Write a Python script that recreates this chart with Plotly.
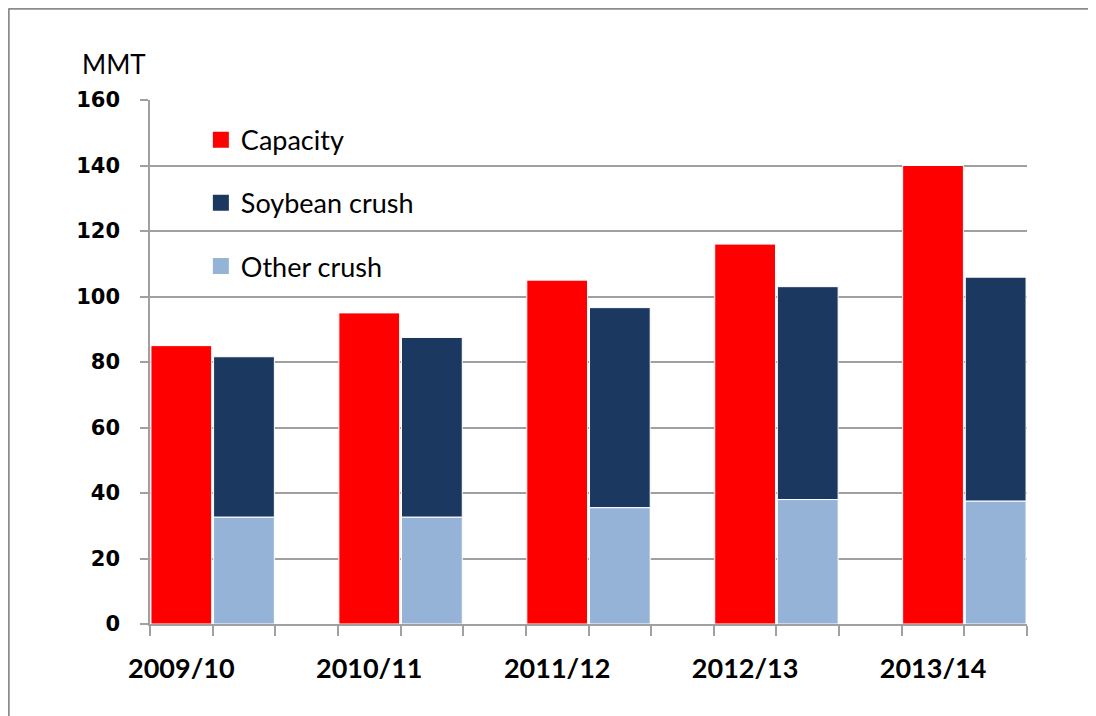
import plotly.graph_objects as go

years = ["2009/10", "2010/11", "2011/12", "2012/13", "2013/14"]
capacity = [85, 95, 105, 116, 140]
soybean_crush = [49.0, 54.9, 61.1, 65.0, 68.4]
other_crush = [32.6, 32.6, 35.5, 38.0, 37.5]

series_names = ["Capacity", "Soybean crush", "Other crush"]
RED = "#FF0000"
NAVY = "#1B3860"
LIGHT = "#95B3D7"
colors = [RED, NAVY, LIGHT]
FONT = "Lato"

# each year occupies 3 category slots: capacity, crush, blank
cap_x = [3 * i + 0.5 for i in range(len(years))]
crush_x = [3 * i + 1.5 for i in range(len(years))]

fig = go.Figure()
fig.add_trace(go.Bar(x=cap_x, y=capacity, name=series_names[0], width=0.97,
                     marker=dict(color=RED, line=dict(color="white", width=1)), showlegend=False))
fig.add_trace(go.Bar(x=crush_x, y=soybean_crush, base=other_crush, name=series_names[1], width=0.97,
                     marker=dict(color=NAVY, line=dict(color="white", width=1)), showlegend=False))
fig.add_trace(go.Bar(x=crush_x, y=other_crush, name=series_names[2], width=0.97,
                     marker=dict(color=LIGHT, line=dict(color="white", width=1)), showlegend=False))

# legend entries with larger square swatches
for i, (nm, col) in enumerate(zip(series_names, colors)):
    fig.add_trace(go.Scatter(x=[None], y=[None], mode="markers", name=nm,
                             marker=dict(symbol="square", size=16, color=col),
                             legendgroup=str(i), showlegend=True))

W, H = 1088, 708
L, R, T, B = 142, 69, 92, 92
pw, ph = W - L - R, H - T - B

fig.update_layout(
    width=W, height=H,
    margin=dict(l=L, r=R, t=T, b=B),
    paper_bgcolor="white", plot_bgcolor="white",
    barmode="overlay",
    font=dict(family=FONT, color="black"),
    showlegend=True,
    legend=dict(x=0.058, y=0.970, xanchor="left", yanchor="top",
                font=dict(size=27, family=FONT), tracegroupgap=25,
                bgcolor="rgba(0,0,0,0)", traceorder="grouped", itemsizing="trace"),
    xaxis=dict(range=[0, 14], tickvals=cap_x, ticktext=years, ticks="",
               showgrid=False, zeroline=False, showline=True, linecolor="#A0A0A0", linewidth=1.5,
               tickfont=dict(size=27, family=FONT, weight="bold"), ticklabelstandoff=20,
               minor=dict(tick0=0, dtick=1, ticks="outside", ticklen=10, tickcolor="#A0A0A0",
                          tickwidth=1.5, showgrid=False)),
    yaxis=dict(range=[0, 160], dtick=20, ticks="outside", ticklen=8, tickcolor="#A0A0A0", tickwidth=1.5,
               showgrid=True, gridcolor="#A0A0A0", gridwidth=1.5, zeroline=False,
               showline=True, linecolor="#A0A0A0", linewidth=1.5,
               tickfont=dict(size=21, family="DejaVu Sans", weight="bold"), ticklabelstandoff=16),
)

fig.add_annotation(text="MMT", xref="paper", yref="paper",
                   x=(72 - L) / pw, y=1 + (T - 56) / ph,
                   xanchor="left", yanchor="middle", showarrow=False,
                   font=dict(size=26, family=FONT, color="black"))

# outer frame (top and left edges)
fx = (0.5 - L) / pw
fy = 1 + (T - 0.5) / ph
fig.add_shape(type="line", xref="paper", yref="paper", x0=fx, x1=1 + (R + 20) / pw, y0=fy, y1=fy,
              line=dict(color="#8C8C8C", width=2.5))
fig.add_shape(type="line", xref="paper", yref="paper", x0=fx, x1=fx, y0=fy, y1=-(B + 20) / ph,
              line=dict(color="#8C8C8C", width=2.5))

fig.write_html("out.html")
